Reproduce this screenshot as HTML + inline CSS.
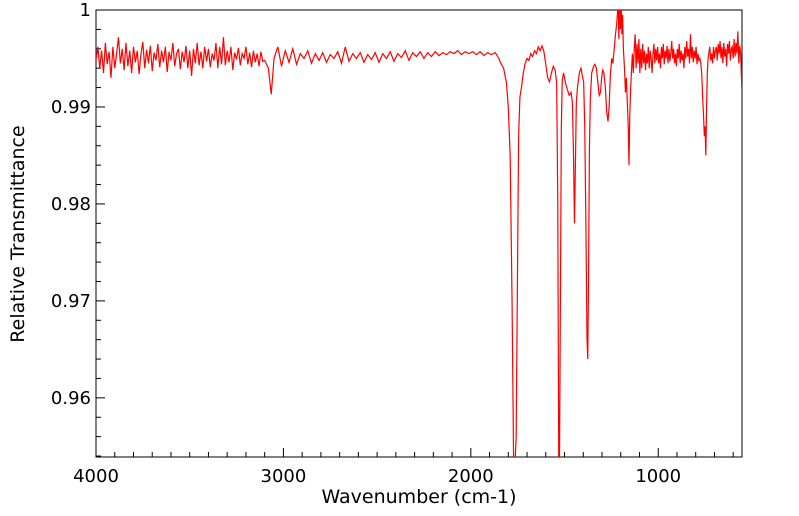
<!DOCTYPE html>
<html><head><meta charset="utf-8"><style>
html,body{margin:0;padding:0;background:#fff;}
svg{display:block;font-family:"DejaVu Sans","Liberation Sans",sans-serif;}
</style></head><body>
<svg id="chart" width="799" height="516" viewBox="0 0 799 516" xmlns="http://www.w3.org/2000/svg">
<defs><clipPath id="plotclip"><rect x="96" y="10" width="646" height="447"/></clipPath></defs>
<rect x="96" y="10" width="646" height="447" fill="none" stroke="#000" stroke-width="1"/>
<g id="ticks"></g>
<g id="labels" font-size="18" fill="#000"></g>
<text x="419" y="503" font-size="19" text-anchor="middle">Wavenumber (cm-1)</text>
<text transform="translate(24,234) rotate(-90)" font-size="19" text-anchor="middle">Relative Transmittance</text>
<g clip-path="url(#plotclip)"><path id="spectrum" fill="none" stroke="#ff0000" stroke-width="1.2"/></g>
</svg>
<script>
const wavenumbers=[4000,3990,3980,3970,3960,3950,3940,3930,3920,3910,3900,3890,3880,3870,3860,3850,3840,3830,3820,3810,3800,3790,3780,3770,3760,3750,3740,3730,3720,3710,3700,3690,3680,3670,3660,3650,3640,3630,3620,3610,3600,3590,3580,3570,3560,3550,3540,3530,3520,3510,3500,3490,3480,3470,3460,3450,3440,3430,3420,3410,3400,3390,3380,3370,3360,3350,3340,3330,3320,3310,3300,3290,3280,3270,3260,3250,3240,3230,3220,3210,3200,3190,3180,3170,3160,3150,3140,3130,3120,3110,3100,3080,3065,3050,3030,3010,2990,2970,2950,2930,2910,2890,2870,2850,2830,2810,2790,2770,2750,2730,2710,2690,2670,2650,2630,2610,2590,2570,2550,2530,2510,2490,2470,2450,2430,2410,2390,2370,2350,2330,2310,2290,2270,2250,2230,2210,2190,2170,2150,2130,2110,2090,2070,2050,2030,2010,1990,1970,1950,1930,1910,1890,1870,1860,1850,1840,1825,1810,1800,1790,1780,1772,1765,1758,1750,1745,1738,1730,1720,1710,1700,1690,1680,1670,1660,1650,1640,1630,1620,1610,1600,1590,1580,1570,1560,1550,1542,1536,1531,1527,1522,1517,1512,1505,1495,1485,1475,1465,1458,1452,1447,1442,1437,1430,1420,1412,1405,1398,1392,1386,1380,1376,1372,1367,1362,1355,1345,1338,1330,1322,1315,1308,1302,1296,1290,1282,1275,1268,1262,1255,1248,1242,1235,1228,1222,1218,1214,1210,1206,1202,1198,1194,1190,1186,1180,1175,1170,1165,1160,1156,1152,1147,1142,1138,1133,1128,1123,1118,1113,1108,1103,1098,1093,1088,1083,1078,1073,1068,1063,1058,1053,1048,1043,1038,1033,1028,1023,1018,1013,1008,1003,998,993,988,983,978,973,968,963,958,953,948,943,938,933,928,923,918,913,908,903,898,893,888,883,878,873,868,863,858,853,848,843,838,833,828,823,818,813,808,803,798,793,788,783,778,773,768,763,758,754,750,746,742,738,734,730,725,720,715,710,705,700,695,690,685,680,675,670,665,660,655,650,645,640,635,630,625,620,615,610,605,600,595,590,585,580,575,570,565,560,556,553];
const transmittance=[.9948,.9962,.9940,.9958,.9935,.9966,.9944,.9957,.9930,.9962,
.9940,.9955,.9972,.9945,.9960,.9938,.9966,.9942,.9958,.9935,
.9962,.9946,.9958,.9934,.9955,.9967,.9940,.9959,.9945,.9963,
.9937,.9956,.9948,.9965,.9941,.9958,.9946,.9962,.9936,.9957,
.9948,.9966,.9942,.9955,.9960,.9939,.9957,.9946,.9963,.9940,
.9958,.9932,.9960,.9945,.9966,.9943,.9957,.9940,.9962,.9947,
.9960,.9941,.9955,.9948,.9966,.9940,.9962,.9944,.9972,.9943,
.9958,.9946,.9962,.9938,.9956,.9949,.9961,.9943,.9955,.9950,
.9962,.9944,.9956,.9941,.9958,.9946,.9955,.9942,.9957,.9947,
.9948,.9940,.9913,.9950,.9962,.9942,.9958,.9946,.9960,.9944,.9955,.9950,.9958,.9945,.9955,.9948,.9956,.9946,.9954,.9950,.9957,.9945,.9962,.9947,.9955,.9950,.9956,.9946,.9954,.9949,.9956,.9946,.9955,.9950,.9957,.9947,.9955,.9951,.9958,.9948,.9956,.9952,.9957,.9950,.9956,.9952,.9957,.9953,.9956,.9954,.9957,.9955,.9958,.9954,.9957,.9955,.9957,.9954,.9957,.9953,.9956,.9954,.9956,.9953,.9950,.9945,.9940,.9925,.9900,.9850,.9700,.9540,.9530,.9560,.9750,.9870,.9910,.9920,.9935,.9945,.9950,.9948,.9955,.9952,.9958,.9955,.9962,.9958,.9963,.9957,.9944,.9930,.9926,.9935,.9942,.9938,.9925,.9800,.9540,.9530,.9700,.9880,.9928,.9935,.9925,.9918,.9912,.9915,.9905,.9850,.9780,.9840,.9905,.9922,.9936,.9940,.9932,.9926,.9880,.9780,.9660,.9640,.9720,.9860,.9910,.9935,.9942,.9944,.9940,.9925,.9912,.9915,.9930,.9938,.9935,.9920,.9895,.9885,.9900,.9935,.9950,.9945,.9960,.9975,.9985,.9995,1.001,.9970,1.001,.9980,1.001,.9975,.9995,.9960,.9940,.9915,.9930,.9905,.9880,.9840,.9890,.9920,.9940,.9955,.9935,.9960,.9975,.9940,.9965,.9945,.9970,.9935,.9960,.9940,.9965,.9945,.9958,.9938,.9955,.9945,.9962,.9940,.9958,.9950,.9935,.9955,.9965,.9945,.9960,.9948,.9962,.9945,.9955,.9940,.9962,.9950,.9965,.9944,.9958,.9950,.9963,.9945,.9960,.9947,.9955,.9968,.9950,.9960,.9945,.9955,.9942,.9960,.9950,.9965,.9945,.9958,.9948,.9955,.9940,.9962,.9950,.9968,.9952,.9960,.9945,.9975,.9950,.9962,.9946,.9958,.9950,.9962,.9944,.9955,.9948,.9950,.9945,.9935,.9910,.9890,.9870,.9880,.9850,.9900,.9935,.9950,.9955,.9962,.9948,.9955,.9945,.9962,.9950,.9958,.9962,.9948,.9965,.9955,.9968,.9950,.9962,.9945,.9966,.9952,.9960,.9942,.9965,.9955,.9968,.9948,.9960,.9962,.9950,.9970,.9952,.9966,.9955,.9978,.9945,.9963,.9955,.9930,.9915];
const xTickLabels=[4000,3000,2000,1000];
const yTickLabels=[0.96,0.97,0.98,0.99,1];
const X0=96,X1=742,Y0=10,Y1=457,WMAX=4000,WMIN=553,TMAX=1,TMIN=0.9539;
function xs(w){return X0+(WMAX-w)/(WMAX-WMIN)*(X1-X0);}
function ys(t){return Y0+(TMAX-t)/(TMAX-TMIN)*(Y1-Y0);}
const NS='http://www.w3.org/2000/svg';
let d='';
for(let i=0;i<wavenumbers.length;i++){d+=(i?'L':'M')+xs(wavenumbers[i]).toFixed(2)+','+ys(transmittance[i]).toFixed(2);}
document.getElementById('spectrum').setAttribute('d',d);
const tg=document.getElementById('ticks'),lg=document.getElementById('labels');
function line(x1,y1,x2,y2){const l=document.createElementNS(NS,'line');l.setAttribute('x1',x1);l.setAttribute('y1',y1);l.setAttribute('x2',x2);l.setAttribute('y2',y2);l.setAttribute('stroke','#000');l.setAttribute('stroke-width','1');


tg.appendChild(l);}
for(let w=4000;w>=WMIN;w-=100){const x=xs(w);const len=(w%1000===0)?9:5;line(x,Y1,x,Y1-len);}
for(let k=0;k<=23;k++){const t=0.954+k*0.002;if(t>TMAX+1e-9)break;const y=ys(t);const major=Math.abs(Math.round(t*100)-t*100)<1e-6;line(X0,y,X0+(major?9:5),y);}
xTickLabels.forEach(v=>{const t=document.createElementNS(NS,'text');t.setAttribute('x',xs(v));t.setAttribute('y',Y1+25);t.setAttribute('text-anchor','middle');t.textContent=v;


lg.appendChild(t);});
yTickLabels.forEach(v=>{const t=document.createElementNS(NS,'text');t.setAttribute('x',X0-5);t.setAttribute('y',ys(v)+6);t.setAttribute('text-anchor','end');t.textContent=v;


lg.appendChild(t);});
</script>
</body></html>
